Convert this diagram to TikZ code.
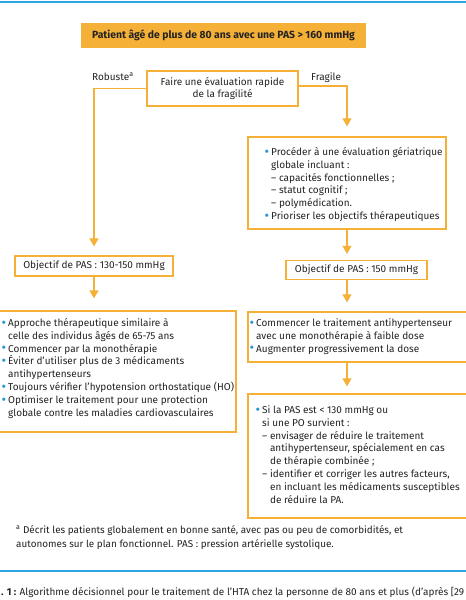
\documentclass[tikz,border=0pt]{standalone}
\usepackage{fontspec}
\setmainfont{Fira Sans}
\usetikzlibrary{arrows.meta}
\definecolor{org}{RGB}{245,176,55}
\definecolor{bblue}{RGB}{35,150,215}
\definecolor{lblue}{RGB}{45,165,225}
\definecolor{txt}{RGB}{35,35,35}
\newcommand\bul{\makebox[6pt][l]{\hspace*{-0.6pt}\textcolor{bblue}{\raisebox{-0.9pt}{\smash{\scalebox{1.4}{\textbullet}}}}}}
\newcommand\ind{\hspace*{6pt}}
\newcommand\dind{\phantom{– }}
\tikzset{
  box/.style={draw=org, line width=1.3pt, inner sep=0pt},
  txtblock/.style={anchor=north west, inner sep=0pt, align=left, text=txt},
  conn/.style={draw=org, line width=1.3pt, -{Triangle[width=9pt,length=8pt]}},
}
\begin{document}
\begin{tikzpicture}[x=1pt,y=-1pt, font=\fontsize{10}{12.9}\selectfont]
\useasboundingbox (0,0) rectangle (466,600);
\fill[white] (0,0) rectangle (466,600);
\draw[lblue, line width=1.8pt] (0,2) -- (466,2);
\draw[lblue, line width=1.5pt] (0,571) -- (466,571);

% title
\node[fill=org, minimum width=285pt, minimum height=25pt, inner sep=0pt, text=txt, font=\fontsize{10.4}{12}\selectfont\bfseries] (title) at (223.5,35.5) {Patient âgé de plus de 80 ans avec une PAS > 160 mmHg};

% fragility
\node[box, minimum width=151pt, minimum height=35pt, align=center, text=txt, font=\fontsize{10}{12}\selectfont] (frag) at (222.5,88.5) {Faire une évaluation rapide\\de la fragilité};
\node[anchor=base west, inner sep=0pt, text=txt] (rob) at (92,80) {Robuste\textsuperscript{a}};
\node[anchor=base west, inner sep=0pt, text=txt] (fra) at (311,80) {Fragile};

% boxes
\node[box, minimum width=198pt, minimum height=92pt] (rb1) at (347,183) {};
\node[box, minimum width=141pt, minimum height=19pt, text=txt] (o2) at (356.5,270) {Objectif de PAS : 150 mmHg};
\node[box, minimum width=158pt, minimum height=20pt, text=txt] (o1) at (94,266) {Objectif de PAS : 130-150 mmHg};
\node[box, minimum width=239pt, minimum height=121pt] (lb) at (116.5,371.5) {};
\node[box, minimum width=222pt, minimum height=50pt] (rb2) at (359,337) {};
\node[box, minimum width=222pt, minimum height=124pt] (rb3) at (359,456) {};

% texts
\node[txtblock] (lbt) at (2,317) {\strut\bul Approche thérapeutique similaire à\\
\ind celle des individus âgés de 65-75 ans\\
\bul Commencer par la monothérapie\\
\bul Éviter d’utiliser plus de 3 médicaments\\
\ind antihypertenseurs\\
\bul Toujours vérifier l’hypotension orthostatique (HO)\\
\bul Optimiser le traitement pour une protection\\
\ind globale contre les maladies cardiovasculaires};

\node[txtblock] (rb1t) at (265,146) {\strut\bul Procéder à une évaluation gériatrique\\
\ind globale incluant :\\
\ind – capacités fonctionnelles ;\\
\ind – statut cognitif ;\\
\ind – polymédication.\\
\bul Prioriser les objectifs thérapeutiques};

\node[txtblock] (rb2t) at (250,317) {\strut\bul Commencer le traitement antihypertenseur\\
\ind avec une monothérapie à faible dose\\
\bul Augmenter progressivement la dose};

\node[txtblock] (rb3t) at (256,404) {\strut\bul Si la PAS est < 130 mmHg ou\\
\ind si une PO survient :\\
\ind – envisager de réduire le traitement\\
\ind\dind antihypertenseur, spécialement en cas\\
\ind\dind de thérapie combinée ;\\
\ind – identifier et corriger les autres facteurs,\\
\ind\dind en incluant les médicaments susceptibles\\
\ind\dind de réduire la PA.};

% connectors
\draw[conn, shorten >=9pt] (frag.west) -| (o1.north);
\draw[conn, shorten >=10pt] ([yshift=2.5pt]frag.east) -| (rb1.north);
\draw[conn, shorten >=6pt] (rb1.south) -- (rb1.south |- o2.north);
\draw[conn, shorten >=9pt] (o2.south -| rb1.south) -- (rb2.north -| rb1.south);
\draw[conn, shorten >=7pt] (rb2.south -| rb1.south) -- (rb3.north -| rb1.south);
\draw[conn, shorten >=12pt] (o1.south) -- (lb.north -| o1.south);

% footnote and caption
\node[txtblock, font=\fontsize{9.9}{14}\selectfont] (fn) at (16,523.2) {\strut\textsuperscript{a} Décrit les patients globalement en bonne santé, avec pas ou peu de comorbidités, et\\
autonomes sur le plan fonctionnel. PAS : pression artérielle systolique.};
\node[anchor=base west, inner sep=0pt, text=txt, font=\fontsize{9.4}{12}\selectfont] (cap) at (1,595) {\resizebox{463pt}{!}{\textbf{. 1 :} Algorithme décisionnel pour le traitement de l’HTA chez la personne de 80 ans et plus (d’après [29}};
\end{tikzpicture}
\end{document}
